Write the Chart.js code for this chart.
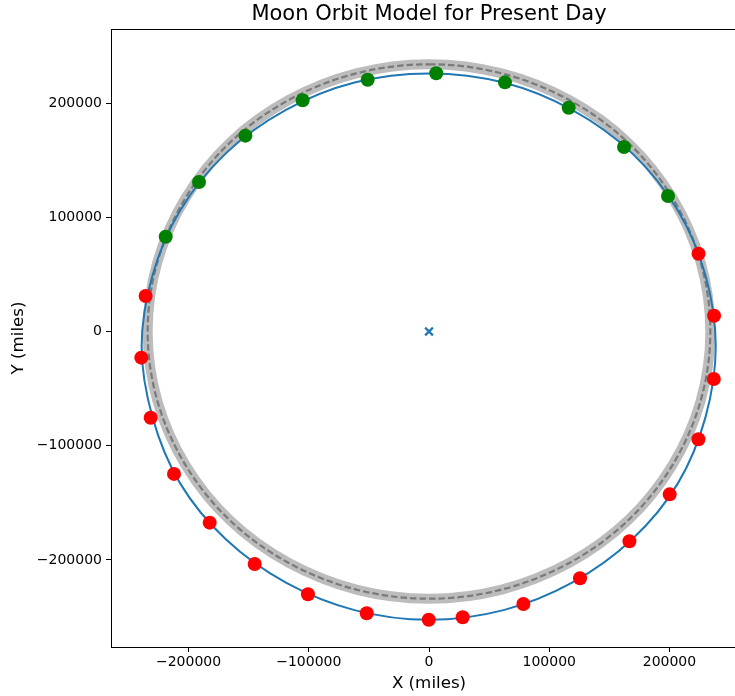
<!DOCTYPE html>
<html>
<head>
<meta charset="utf-8">
<script src="https://cdn.jsdelivr.net/npm/chart.js@4.4.1/dist/chart.umd.min.js"></script>
<style>
    body { margin: 0; background: #fff; overflow: hidden; }
    #wrap { width: 735px; height: 696px; overflow: hidden; }
</style>
</head>
<body>
<div id="wrap"><canvas id="myChart" width="858" height="696"></canvas></div>
<script>
// points (miles)
const greenX = [-219000, -191300, -152700, -105100, -51000, 6000, 63200, 116200, 162200, 198800];
const greenY = [83000, 130900, 171500, 202500, 220500, 226100, 218200, 196000, 161600, 118700];

const redX = [224200, 237100, 236900, 224100, 200200, 166700, 125600, 78500, 28000, -200,
    -51800, -100700, -145000, -182400, -212100, -231500, -239300, -235700];
const redY = [68100, 13800, -41600, -94400, -142600, -183700, -216100, -238600, -250300, -252400,
    -246800, -230100, -203600, -167400, -124700, -75500, -22900, 31100];

// blue orbit curve (closed loop, last = first)
const orbitX = [0, 62000, 119000, 169000, 207000, 230000, 238500, 230000, 207000, 169000, 119000, 62000,
    0, -62000, -119000, -169000, -207000, -230000, -239000, -230000, -207000, -169000, -119000, -62000, 0];
const orbitY = [226000, 218000, 194000, 156000, 106000, 49000, -13000, -75000, -133000, -182000, -220000, -244000,
    -252500, -244000, -220000, -182000, -133000, -75000, -13000, 49000, 106000, 156000, 194000, 218000, 226000];

// gray mean-distance circle (closed loop)
const meanX = [0, 60500, 117000, 165500, 202500, 226000, 234000, 226000, 202500, 165500, 117000, 60500,
    0, -60500, -117000, -165500, -202500, -226000, -234000, -226000, -202500, -165500, -117000, -60500, 0];
const meanY = [234000, 226000, 202500, 165500, 117000, 60500, 0, -60500, -117000, -165500, -202500, -226000,
    -234000, -226000, -202500, -165500, -117000, -60500, 0, 60500, 117000, 165500, 202500, 226000, 234000];

const earthX = [0];
const earthY = [0];

const xTicks = [-200000, -100000, 0, 100000, 200000];
const yTicks = [-200000, -100000, 0, 100000, 200000];
const xMin = -264500, xMax = 264500;
const yMin = -276300, yMax = 264900;

function pts(xs, ys) {
    return xs.map(function (x, i) { return { x: x, y: ys[i] }; });
}

// wrap a closed loop with one extra point at each end so the spline is smooth at the seam
function loop(xs, ys) {
    var p = pts(xs, ys);
    var n = p.length;
    return [p[n - 2]].concat(p, [p[1]]);
}

// first and last segments are only there for the spline, hide them
function hideEnds(color) {
    return function (c) {
        var last = c.chart.data.datasets[c.datasetIndex].data.length - 2;
        return (c.p0DataIndex === 0 || c.p0DataIndex === last) ? 'rgba(0,0,0,0)' : color;
    };
}

function fmt(v) {
    return v < 0 ? '\u2212' + Math.abs(v) : String(v);
}

const frame = {
    id: 'frame',
    afterDraw: function (chart) {
        const a = chart.chartArea;
        const c = chart.ctx;
        c.save();
        c.strokeStyle = '#000';
        c.lineWidth = 1;
        c.strokeRect(Math.round(a.left) + 0.5, Math.round(a.top) + 0.5, a.right - a.left, a.bottom - a.top);
        c.restore();
    }
};

const ctx = document.getElementById('myChart');
const tickFont = { family: 'DejaVu Sans', size: 14 };
const labelFont = { family: 'DejaVu Sans', size: 16.7 };

new Chart(ctx, {
    type: 'scatter',
    data: {
        datasets: [
            { data: pts(greenX, greenY), backgroundColor: 'green', pointRadius: 7, borderWidth: 0 },
            { data: pts(redX, redY), backgroundColor: 'red', pointRadius: 7, borderWidth: 0 },
            { data: pts(earthX, earthY), pointStyle: 'crossRot', pointRadius: 5.5, borderColor: '#1f77b4', borderWidth: 2.2 },
            { data: loop(orbitX, orbitY), showLine: true, tension: 0.34, pointRadius: 0, borderColor: '#1f77b4', borderWidth: 2,
              segment: { borderColor: hideEnds('#1f77b4') } },
            { data: loop(meanX, meanY), showLine: true, tension: 0.34, pointRadius: 0, borderColor: '#7a7a7a', borderWidth: 2.2, borderDash: [6.5, 3],
              segment: { borderColor: hideEnds('#7a7a7a') } },
            { data: loop(meanX, meanY), showLine: true, tension: 0.34, pointRadius: 0, borderColor: '#bcbcbc', borderWidth: 10,
              segment: { borderColor: hideEnds('#bcbcbc') } }
        ]
    },
    options: {
        responsive: false,
        animation: false,
        layout: { padding: { left: 0, right: 111, top: 0, bottom: 0 } },
        plugins: {
            legend: { display: false },
            tooltip: { enabled: false },
            title: {
                display: true,
                fullSize: false,
                text: 'Moon Orbit Model for Present Day',
                color: '#000',
                font: { family: 'DejaVu Sans', size: 21, weight: 'normal', lineHeight: 1.2 },
                padding: { top: 2, bottom: 1.8 }
            }
        },
        scales: {
            x: {
                type: 'linear',
                min: xMin, max: xMax,
                afterFit: function (s) { s.height = 49; },
                afterBuildTicks: function (s) { s.ticks = xTicks.map(function (v) { return { value: v }; }); },
                grid: { drawOnChartArea: false, drawTicks: true, tickLength: 5, color: '#000', tickColor: '#000' },
                border: { display: true, color: '#000', width: 1 },
                ticks: { autoSkip: false, maxRotation: 0, padding: 2, color: '#000', font: tickFont, callback: fmt },
                title: { display: true, text: 'X (miles)', color: '#000', font: labelFont, padding: { top: 0, bottom: 2 } }
            },
            y: {
                type: 'linear',
                min: yMin, max: yMax,
                afterFit: function (s) { s.width = 111; },
                afterBuildTicks: function (s) { s.ticks = yTicks.map(function (v) { return { value: v }; }); },
                grid: { drawOnChartArea: false, drawTicks: true, tickLength: 5, color: '#000', tickColor: '#000' },
                border: { display: true, color: '#000', width: 1 },
                ticks: { autoSkip: false, padding: 4, color: '#000', font: tickFont, callback: fmt },
                title: { display: true, text: 'Y (miles)', color: '#000', font: labelFont, padding: { top: 9, bottom: 0 } }
            }
        }
    },
    plugins: [frame]
});
</script>
</body>
</html>
